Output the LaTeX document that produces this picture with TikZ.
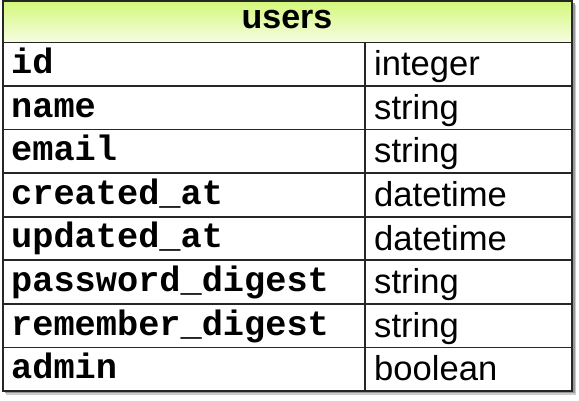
\documentclass[tikz,border=0pt]{standalone}
\usepackage{fontspec}
\setmainfont{Liberation Sans}
\setmonofont{Liberation Mono}
\definecolor{hdrtop}{RGB}{212,248,122}
\definecolor{hdrbot}{RGB}{246,253,228}
\begin{document}
\begin{tikzpicture}[x=1pt,y=1pt,
  keytext/.style={anchor=base west,inner sep=0pt,font=\fontsize{35.3}{40}\selectfont\ttfamily\bfseries},
  typetext/.style={anchor=base west,inner sep=0pt,font=\fontsize{34.6}{40}\selectfont},
  headtext/.style={anchor=base,inner sep=0pt,font=\fontsize{34}{40}\selectfont\bfseries},
  gridline/.style={line width=1.6pt,black!85},
  frameline/.style={line width=2pt,black!85}]
\useasboundingbox (0,0) rectangle (579,401);
% shadow
\fill[black!20] (6,396) rectangle (576,5.5);
\fill[black!40] (4.5,397.5) rectangle (574.5,7.5);
% body
\fill[white] (2.5,399.5) rectangle (571.5,10);
\shade[top color=hdrtop,bottom color=hdrbot] (2.5,399.5) rectangle (571.5,358.5);
\node[headtext] (hdr) at (287,372) {users};
% rows
\foreach \k/\t [count=\i from 0] in {id/integer,name/string,email/string,created\_at/datetime,updated\_at/datetime,password\_digest/string,remember\_digest/string,admin/boolean}{
  \pgfmathsetmacro{\rt}{358.5-43.56*\i}
  \node[keytext] (k\i) at (11,\rt-31.2) {\k};
  \node[typetext] (t\i) at (374,\rt-33.3) {\t};
  \draw[gridline] (2.5,\rt) -- (571.5,\rt);
}
\draw[gridline] (365,358.5) -- (365,10);
\draw[frameline] (2.5,399.5) rectangle (571.5,10);
\end{tikzpicture}
\end{document}
